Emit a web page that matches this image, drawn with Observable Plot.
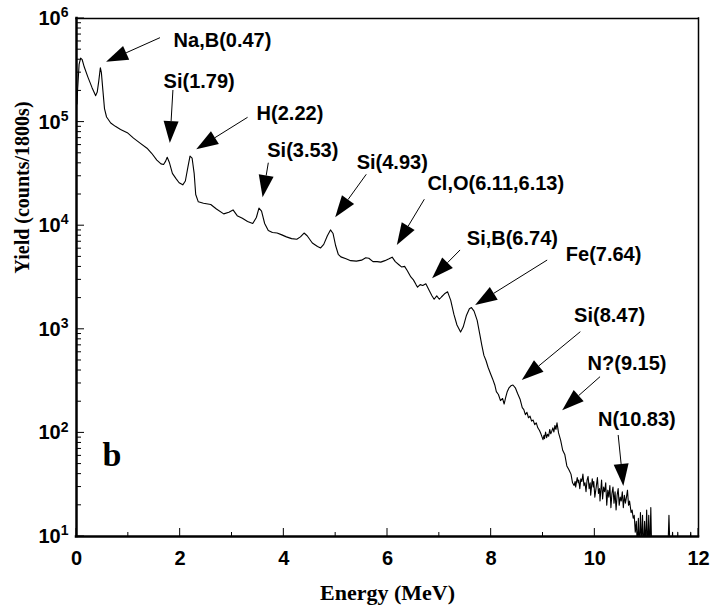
<!DOCTYPE html>
<html><head><meta charset="utf-8">
<script src="https://cdn.jsdelivr.net/npm/d3@7"></script>
<script src="https://cdn.jsdelivr.net/npm/@observablehq/plot@0.6"></script>
<style>body{margin:0;background:#fff}</style>
</head><body><div id="chart"></div>
<script>
// Spectrum points: [energy (MeV), yield (counts/1800s)]
const spectrumPoints = [
  [0.01,150000],[0.02,200000],[0.05,360000],[0.08,415000],[0.11,400000],[0.15,340000],[0.22,272000],[0.30,215000],[0.37,180000],[0.40,195000],
  [0.43,250000],[0.46,335000],[0.48,300000],[0.51,200000],[0.54,135000],[0.58,112000],[0.66,98000],[0.75,91000],[0.85,85000],[0.98,79000],
  [1.10,70000],[1.22,63000],[1.36,56000],[1.45,50000],[1.55,43000],[1.63,39500],[1.68,39000],[1.72,42000],[1.75,45800],[1.79,41000],
  [1.85,32000],[1.92,28500],[1.98,26000],[2.05,24800],[2.10,27000],[2.15,37000],[2.19,47000],[2.23,45000],[2.27,32000],[2.30,20000],
  [2.35,17000],[2.45,16500],[2.59,16000],[2.70,14500],[2.84,13000],[2.94,13500],[3.02,14200],[3.10,12500],[3.20,11800],[3.30,11000],
  [3.40,10500],[3.47,12000],[3.52,14800],[3.57,13800],[3.63,10500],[3.70,9000],[3.78,8600],[3.87,8500],[3.95,8200],[4.05,7800],
  [4.15,7500],[4.25,7400],[4.32,7800],[4.39,8500],[4.45,8000],[4.55,6800],[4.65,6300],[4.71,6100],[4.77,6600],[4.84,8000],
  [4.90,9100],[4.95,8400],[5.00,6400],[5.05,5300],[5.10,5000],[5.20,4800],[5.29,4600],[5.40,4550],[5.50,4650],[5.58,4900],
  [5.64,4850],[5.72,4500],[5.80,4500],[5.87,4450],[5.95,4600],[6.03,4800],[6.09,4970],[6.15,4500],[6.22,4200],[6.27,4000],
  [6.33,4050],[6.38,3700],[6.45,3200],[6.50,3000],[6.55,2700],[6.58,2550],[6.63,2700],[6.68,2650],[6.74,2750],[6.80,2400],
  [6.86,2100],[6.90,1950],[6.95,2100],[7.00,1950],[7.04,2050],[7.10,2200],[7.16,2300],[7.22,1900],[7.28,1400],[7.34,1100],
  [7.41,940],[7.46,1050],[7.52,1350],[7.58,1580],[7.62,1620],[7.67,1500],[7.73,1220],[7.78,900],[7.82,700],[7.86,560],
  [7.90,500],[7.94,430],[7.99,370],[8.03,330],[8.07,290],[8.10,250],[8.14,235],[8.18,205],[8.22,215],[8.25,190],
  [8.28,220],[8.31,250],[8.34,270],[8.38,285],[8.42,290],[8.47,270],[8.51,240],[8.56,210],[8.60,175],[8.63,168],
  [8.66,150],[8.69,158],[8.72,140],[8.75,145],[8.78,130],[8.81,133],[8.84,120],[8.87,125],[8.90,112],[8.93,106],
  [8.96,98],[9.00,86],[9.02,95],[9.03,88],[9.05,102],[9.07,90],[9.09,97],[9.11,93],[9.13,108],[9.15,98],
  [9.17,104],[9.19,112],[9.21,102],[9.23,118],[9.25,108],[9.27,125],[9.30,100],[9.34,85],[9.38,68],[9.42,62],
  [9.46,48],[9.50,44],[9.54,40],[9.57,33],[9.60,31],[9.62,34],[9.63,30],[9.66,37],[9.68,33],[9.69,35],
  [9.71,29],[9.73,36],[9.75,34],[9.77,40],[9.79,31],[9.81,33],[9.83,27],[9.85,35],[9.87,38],[9.89,29],
  [9.91,33],[9.92,25],[9.95,36],[9.97,30],[9.98,34],[10.00,24],[10.03,31],[10.05,37],[10.07,26],[10.09,29],
  [10.10,22],[10.13,35],[10.15,23],[10.17,30],[10.19,27],[10.21,33],[10.23,20],[10.25,28],[10.27,24],[10.29,31],
  [10.31,19],[10.33,26],[10.35,30],[10.37,21],[10.39,27],[10.41,18],[10.43,25],[10.45,29],[10.47,20],[10.49,24],
  [10.51,22],[10.53,27],[10.55,19],[10.57,25],[10.59,21],[10.61,24],[10.63,28],[10.65,20],[10.67,22],[10.70,17],
  [10.72,18],[10.74,15],[10.76,16],[10.78,11],[10.80,14],[10.82,8],[10.84,15],[10.86,7],[10.88,17],[10.90,8],
  [10.92,16],[10.94,7],[10.96,14],[10.98,8],[11.00,18],[11.02,7],[11.04,16],[11.06,7],[11.08,19],[11.10,6],
  [11.12,5],[11.30,5],[11.40,5],[11.43,16],[11.46,5],[11.50,11],[11.52,5],[11.58,5],[11.60,11],[11.62,5],
  [11.80,5],[11.85,11],[11.88,5],[11.95,5]
];

// Axis ticks
const xMajorTicks = [0, 2, 4, 6, 8, 10, 12];
const xMinorTicks = [1, 3, 5, 7, 9, 11];
const yMajorTicks = [1e1, 1e2, 1e3, 1e4, 1e5, 1e6];
const yMinorTicks = [];
for (const d of [1e1, 1e2, 1e3, 1e4, 1e5]) for (const m of [2,3,4,5,6,7,8,9]) yMinorTicks.push(d * m);

// Peak annotations
const peakLabels = ["Na,B(0.47)", "Si(1.79)", "H(2.22)", "Si(3.53)", "Si(4.93)", "Cl,O(6.11,6.13)", "Si,B(6.74)", "Fe(7.64)", "Si(8.47)", "N?(9.15)", "N(10.83)"];
const labelE = [1.873, 1.68, 3.475, 3.68, 5.405, 6.77, 7.53, 9.44, 9.60, 9.86, 10.06];
const labelY = [614000, 246600, 121900, 53200, 41000, 25400, 7480, 5270, 1360, 464, 134];
const tailE = [1.62, 1.87, 3.31, 3.71, 5.60, 6.72, 7.41, 9.09, 9.73, 10.11, 10.46];
const tailY = [646000, 202000, 110000, 40100, 31000, 17800, 5770, 4610, 938, 345, 94.4];
const tipE = [0.58, 1.81, 2.32, 3.60, 5.00, 6.19, 6.87, 7.70, 8.60, 9.38, 10.56];
const tipY = [378000, 62000, 54000, 18600, 11900, 6440, 3070, 1700, 321, 164, 30.4];

const panelLabel = ["b"];
const panelE = [0.5];
const panelY = [48];

const spectrum = spectrumPoints.map(([e, c]) => ({e, c}));
const labels = peakLabels.map((t, i) => ({t, x: labelE[i], y: labelY[i]}));
const arrows = peakLabels.map((t, i) => ({x1: tailE[i], y1: tailY[i], x2: tipE[i], y2: tipY[i]}));

const sans = "'Liberation Sans', Arial, sans-serif";
const serif = "'Liberation Serif', 'Times New Roman', serif";

function ticksAndHeads(index, scales, values, dimensions) {
  const {x, y} = scales;
  const {marginLeft, marginBottom, height} = dimensions;
  const bottom = height - marginBottom, left = marginLeft;
  const g = d3.create("svg:g").attr("stroke", "black").attr("fill", "black");
  const line = (x1, y1, x2, y2, w) => g.append("line").attr("x1", x1).attr("y1", y1).attr("x2", x2).attr("y2", y2).attr("stroke-width", w);
  for (const t of xMajorTicks) line(x(t), bottom, x(t), bottom - 8, 1);
  for (const t of xMinorTicks) line(x(t), bottom, x(t), bottom - 4, 1);
  for (const t of yMajorTicks) line(left, y(t), left + 8, y(t), 1);
  for (const t of yMinorTicks) line(left, y(t), left + 5, y(t), 1);
  const L = 22, W = 7.5;
  for (const a of arrows) {
    const tx = x(a.x1), ty = y(a.y1), hx = x(a.x2), hy = y(a.y2);
    const len = Math.hypot(hx - tx, hy - ty);
    const ux = (hx - tx) / len, uy = (hy - ty) / len;
    const bx = hx - ux * L, by = hy - uy * L;
    line(tx, ty, bx, by, 1);
    g.append("path").attr("stroke", "none")
      .attr("d", `M${hx},${hy}L${bx - uy * W},${by + ux * W}L${bx + uy * W},${by - ux * W}Z`);
  }
  return g.node();
}

const plot = Plot.plot({
  width: 712,
  height: 606,
  marginLeft: 76,
  marginRight: 14,
  marginTop: 18,
  marginBottom: 70,
  style: {background: "white", color: "black"},
  x: {domain: [0, 12]},
  y: {type: "log", domain: [10, 1e6]},
  marks: [
    Plot.line(spectrum, {x: "e", y: "c", stroke: "black", strokeWidth: 1.1, clip: true}),
    Plot.axisX({ticks: xMajorTicks, tickSize: 0, tickPadding: 14, label: null, fontSize: 20, fontWeight: "bold", fontFamily: sans, tickFormat: d => String(d)}),
    Plot.axisY({ticks: yMajorTicks, tickSize: 0, tickPadding: 8, label: null, fontSize: 20, fontWeight: "bold", fontFamily: sans, tickFormat: d => "10^" + Math.round(Math.log10(d))}),
    Plot.ruleX([0], {strokeWidth: 2.5, strokeLinecap: "square"}),
    Plot.ruleY([10], {strokeWidth: 2.5, strokeLinecap: "square"}),
    Plot.ruleX([12], {strokeWidth: 1.5, strokeLinecap: "square"}),
    Plot.ruleY([1e6], {strokeWidth: 1.5, strokeLinecap: "square"}),
    ticksAndHeads,
    Plot.text(labels, {x: "x", y: "y", text: "t", textAnchor: "start", lineAnchor: "middle", fontSize: 20, fontWeight: "bold", fontFamily: sans, fill: "black"}),
    Plot.text(panelLabel, {x: () => panelE[0], y: () => panelY[0], text: d => d, textAnchor: "start", lineAnchor: "bottom", fontSize: 34, fontWeight: "bold", fontFamily: serif, fill: "black"}),
    Plot.text(["Energy (MeV)"], {text: d => d, frameAnchor: "bottom", dy: 56, lineAnchor: "middle", fontSize: 22, fontWeight: "bold", fontFamily: serif, fill: "black"}),
    Plot.text(["Yield (counts/1800s)"], {text: d => d, frameAnchor: "left", dx: -54, dy: -4, rotate: -90, lineAnchor: "middle", fontSize: 20, fontWeight: "bold", fontFamily: serif, fill: "black"})
  ]
});

d3.select(plot).selectAll('[aria-label="y-axis tick label"] text').each(function() {
  const s = this.textContent;
  const [base, exp] = s.split("^");
  const t = d3.select(this);
  t.text(base);
  t.append("tspan").attr("dy", "-0.55em").attr("font-size", 14).text(exp);
});

document.getElementById("chart").append(plot);
</script>
</body></html>
